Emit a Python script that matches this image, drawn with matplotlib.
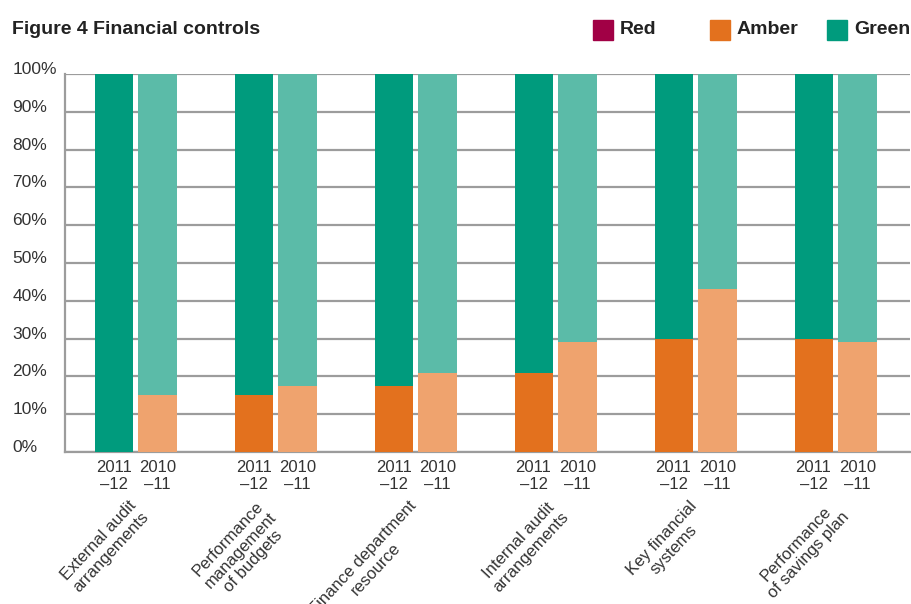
import matplotlib
matplotlib.use("Agg")
import matplotlib.pyplot as plt
from matplotlib.patches import Rectangle
from numpy import arange

plt.rcParams['font.family'] = ['Liberation Sans', 'DejaVu Sans']

categories = ["External audit\narrangements", "Performance\nmanagement\nof budgets",
              "Finance department\nresource", "Internal audit\narrangements",
              "Key financial\nsystems", "Performance\nof savings plan"]
year_labels = ["2011\n\u201312", "2010\n\u201311"]
legend_names = ["Red", "Amber", "Green"]

# percentages
red_2011 = [0, 0, 0, 0, 0, 0]
red_2010 = [0, 0, 0, 0, 0, 0]
amber_2011 = [0, 15, 17.5, 21, 30, 30]
amber_2010 = [15, 17.5, 21, 29, 43, 29]
green_2011 = [100, 85, 82.5, 79, 70, 70]
green_2010 = [85, 82.5, 79, 71, 57, 71]

red_c = '#a10045'
amber_dark, amber_light = '#e3711e', '#efa36e'
green_dark, green_light = '#009b7d', '#5bbba8'
grid_c = '#9c9c9c'
txt_c = '#333333'

fig = plt.figure(figsize=(9.11, 6.04), dpi=100)
ax = fig.add_axes([65/911, 1-452/604, 845/911, 378/604])

x = arange(len(categories))
off = 0.157
w = 0.272

for pos, red, amb, grn, ac, gc in [(x-off, red_2011, amber_2011, green_2011, amber_dark, green_dark),
                                   (x+off, red_2010, amber_2010, green_2010, amber_light, green_light)]:
    ax.bar(pos, red, w, color=red_c, zorder=3)
    ax.bar(pos, amb, w, bottom=red, color=ac, zorder=3)
    bot = [r + a for r, a in zip(red, amb)]
    ax.bar(pos, grn, w, bottom=bot, color=gc, zorder=3)

ax.set_xlim(-0.504, 5.532)
ax.set_ylim(0, 100)
ax.set_yticks(range(0, 101, 10))
ax.set_yticklabels([f"{v}%" for v in range(0, 101, 10)])
ax.yaxis.grid(True, color=grid_c, lw=1.6, zorder=0)
ax.tick_params(axis='y', length=0, pad=38, labelsize=12.5, labelcolor=txt_c)
for lb in ax.get_yticklabels():
    lb.set_horizontalalignment('left')
    lb.set_verticalalignment('baseline')

ticks = list(x-off) + list(x+off)
labs = [year_labels[0]]*len(x) + [year_labels[1]]*len(x)
ax.set_xticks(ticks)
ax.set_xticklabels(labs, linespacing=1.1)
ax.tick_params(axis='x', length=0, pad=6, labelsize=12, labelcolor=txt_c)

for s in ['top', 'right']:
    ax.spines[s].set_visible(False)
for s in ['left', 'bottom']:
    ax.spines[s].set_color(grid_c)
    ax.spines[s].set_linewidth(1.6)

for i, cat in enumerate(categories):
    ax.text(i + 0.115, -0.122, cat, transform=ax.get_xaxis_transform(),
            rotation=47, ha='right', va='top', multialignment='center',
            fontsize=12, color=txt_c, linespacing=1.15)

fig.text(12/911, 1-30/604, "Figure 4 Financial controls", fontsize=14,
         fontweight='bold', color='#222222', va='center', ha='left')

# legend squares at fixed pitch, like the original
for k, (name, c) in enumerate(zip(legend_names, [red_c, amber_dark, green_dark])):
    x0 = (593 + 117*k) / 911
    fig.add_artist(Rectangle((x0, 1-40/604), 20/911, 20/604, color=c,
                             transform=fig.transFigure))
    fig.text(x0 + 27/911, 1-30/604, name, fontsize=14, fontweight='bold',
             color='#222222', va='center', ha='left')

fig.savefig("out.png", dpi=100)
